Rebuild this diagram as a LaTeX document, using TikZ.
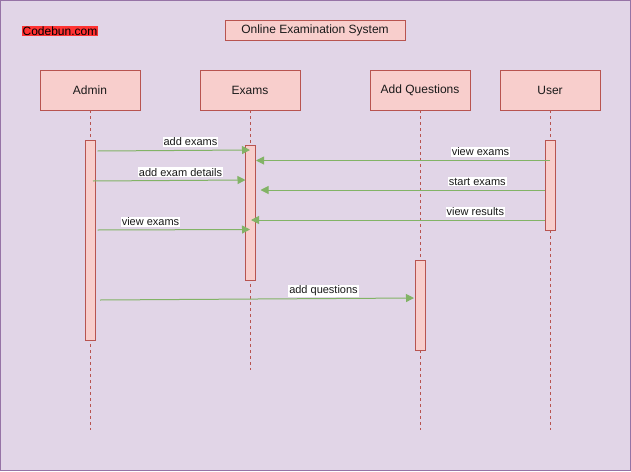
\documentclass[tikz,border=0pt]{standalone}
\usepackage{fontspec}
\setmainfont{Liberation Sans}
\usetikzlibrary{arrows.meta}
\definecolor{bgpurple}{HTML}{E1D5E7}
\definecolor{borderpurple}{HTML}{9673A6}
\definecolor{boxfill}{HTML}{F8CECC}
\definecolor{boxdraw}{HTML}{B85450}
\definecolor{msg}{HTML}{82B366}
\definecolor{logored}{HTML}{FF3333}
\definecolor{txt}{HTML}{1A1A1A}
\begin{document}
\begin{tikzpicture}[x=1pt,y=-1pt,
  actor/.style={draw=boxdraw, fill=boxfill, line width=0.8pt, minimum width=100pt, minimum height=40pt, inner sep=0pt, font=\fontsize{12}{14}\selectfont, text=txt},
  actbar/.style={draw=boxdraw, fill=boxfill, line width=0.8pt, minimum width=10pt, inner sep=0pt, anchor=north},
  life/.style={draw=boxdraw, dash pattern=on 3pt off 3pt, line width=0.8pt},
  msgline/.style={draw=msg, line width=1pt, -{Triangle[length=8pt,width=8pt]}, color=msg},
  lbl/.style={fill=white, inner sep=1pt, font=\fontsize{11}{13}\selectfont, text=txt, yshift=-0.8pt}]
\useasboundingbox (0,0) rectangle (631,471);
\draw[fill=bgpurple, draw=borderpurple, line width=1pt] (0.5,0.5) rectangle (630.5,470.5);

% header
\node[fill=logored, text=black, inner sep=1pt, font=\fontsize{12}{14}\selectfont] (logo) at (60,31) {Codebun.com};
\node[actor, minimum width=180pt, minimum height=20pt] (title) at (315,30) {\raisebox{-0.8pt}{Online Examination System}};

% actors
\node[actor] (admin) at (90,90) {\raisebox{-0.8pt}{Admin}};
\node[actor] (exams) at (250,90) {\raisebox{-0.8pt}{Exams}};
\node[actor] (addq) at (420,90) {\raisebox{-0.8pt}{Add Questions}};
\node[actor] (user) at (550,90) {\raisebox{-0.8pt}{User}};

% lifelines
\coordinate (adminEnd) at (90,430);
\coordinate (examsEnd) at (250,370);
\coordinate (addqEnd) at (420,430);
\coordinate (userEnd) at (550,430);
\draw[life] (admin.south) -- (adminEnd);
\draw[life] (exams.south) -- (examsEnd);
\draw[life] (addq.south) -- (addqEnd);
\draw[life] (user.south) -- (userEnd);

% activation bars
\node[actbar, minimum height=200pt] (barA) at (90,140) {};
\node[actbar, minimum height=135pt] (barE) at (250,145) {};
\node[actbar, minimum height=90pt] (barQ) at (420,260) {};
\node[actbar, minimum height=90pt] (barU) at (550,140) {};

% message end points
\coordinate (m1s) at (97.5,151);  \coordinate (m1e) at (250,150);
\coordinate (m2s) at (93,181);    \coordinate (m2e) at (245.5,180);
\coordinate (m3s) at (97.5,230);  \coordinate (m3e) at (250,229.5);
\coordinate (m4s) at (550,160.5); \coordinate (m4e) at (256,160.5);
\coordinate (m5s) at (545,190);   \coordinate (m5e) at (260.5,190);
\coordinate (m6s) at (545,220);   \coordinate (m6e) at (251,220);
\coordinate (m7s) at (100,300);   \coordinate (m7e) at (414,298);

\draw[msgline] (m1s) -- (m1e);
\draw[msgline] (m2s) -- (m2e);
\draw[msgline] (m3s) -- (m3e);
\draw[msgline] (m4s) -- (m4e);
\draw[msgline] (m5s) -- (m5e);
\draw[msgline] (m6s) -- (m6e);
\draw[msgline] (m7s) -- (m7e);

% labels
\node[lbl] (l1) at (190.5,141) {add exams};
\node[lbl] (l2) at (180.5,171.5) {add exam details};
\node[lbl] (l3) at (150.5,221) {view exams};
\node[lbl] (l4) at (480.5,151) {view exams};
\node[lbl] (l5) at (477.3,181) {start exams};
\node[lbl] (l6) at (475.3,211) {view results};
\node[lbl] (l7) at (323.5,290) {add questions};
\end{tikzpicture}
\end{document}
